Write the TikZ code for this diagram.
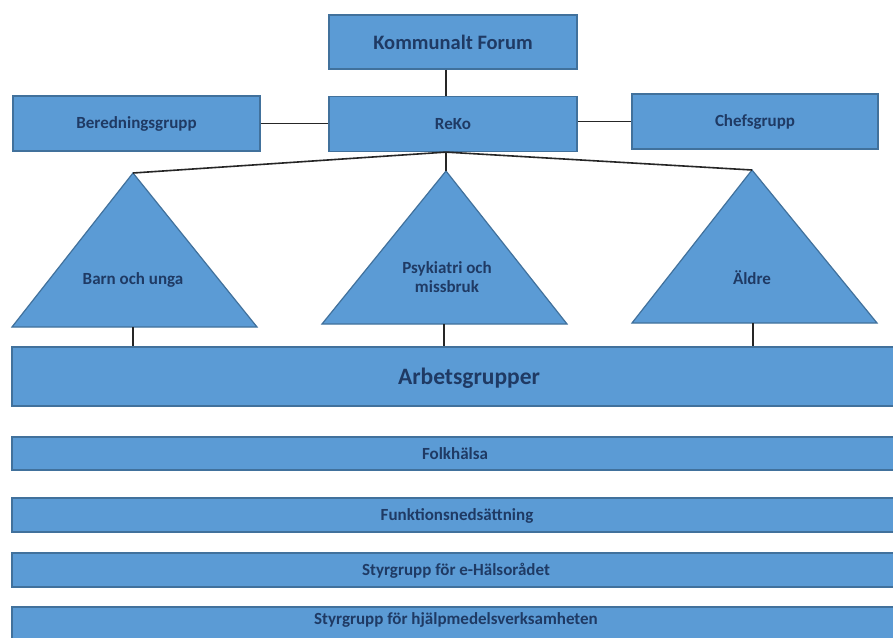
\documentclass[tikz,border=0pt]{standalone}
\usepackage{fontspec}
\setmainfont{Carlito}
\definecolor{boxfill}{HTML}{5B9BD5}
\definecolor{boxline}{HTML}{41719C}
\definecolor{txt}{HTML}{1F3A64}
\tikzset{
  orgbox/.style={draw=boxline, line width=1.2pt, fill=boxfill, inner sep=0pt, text=txt, font=\bfseries\fontsize{17}{20}\selectfont},
  tri/.style={draw=boxline, line width=1.2pt, fill=boxfill, line join=miter},
  conn/.style={draw=black!85, line width=1.6pt},
  lbl/.style={text=txt, font=\bfseries\fontsize{17}{20}\selectfont, align=center, inner sep=0pt}
}
\begin{document}
\begin{tikzpicture}[x=1pt,y=-1pt]
\useasboundingbox (0,0) rectangle (893,637);
\clip (0,0) rectangle (893,637);
\fill[white] (0,0) rectangle (893,637);

% top boxes
\node[orgbox, minimum width=248pt, minimum height=54pt, font=\bfseries\fontsize{20.5}{24}\selectfont] (kf) at (453,42) {Kommunalt Forum};
\node[orgbox, minimum width=248pt, minimum height=55pt] (reko) at (453,124) {ReKo};
\node[orgbox, minimum width=247pt, minimum height=55pt] (bg) at (136.5,123.5) {Beredningsgrupp};
\node[orgbox, minimum width=246pt, minimum height=55pt] (cg) at (755,121.5) {Chefsgrupp};

% triangles
\coordinate (a1) at (133,173);
\coordinate (a2) at (446,171);
\coordinate (a3) at (752,170);
\coordinate (b1) at (133,327);
\coordinate (b2) at (444,324);
\coordinate (b3) at (753,323);
\filldraw[tri] (a1) -- (257,327) -- (12,327) -- cycle;
\filldraw[tri] (a2) -- (567,324) -- (322,324) -- cycle;
\filldraw[tri] (a3) -- (877,323) -- (632,323) -- cycle;
\node[lbl] (t1) at (133,280) {Barn och unga};
\node[lbl] (t2) at (447,277) {Psykiatri och\\[-1pt] missbruk};
\node[lbl] (t3) at (752,278) {Äldre};

% bars
\node[orgbox, minimum width=890pt, minimum height=59pt] (ag) at (457,376.5) {};
\node[lbl, font=\bfseries\fontsize{23.5}{28}\selectfont] (agt) at (469,378) {Arbetsgrupper};
\node[orgbox, minimum width=890pt, minimum height=33pt] (fh) at (457,453.5) {};
\node[lbl] (fht) at (455,454) {Folkhälsa};
\node[orgbox, minimum width=890pt, minimum height=34pt] (fn) at (457,515) {};
\node[lbl] (fnt) at (457,515.5) {Funktionsnedsättning};
\node[orgbox, minimum width=890pt, minimum height=34pt] (eh) at (457,570) {};
\node[lbl] (eht) at (456,570.5) {Styrgrupp för e-Hälsorådet};
\node[orgbox, minimum width=890pt, minimum height=34pt] (hj) at (457,624) {};
\node[lbl] (hjt) at (456,620) {Styrgrupp för hjälpmedelsverksamheten};

% connectors
\coordinate (rb) at (reko.south -| a2);
\draw[conn] (kf.south -| a2) -- (reko.north -| a2);
\draw[conn] (bg.east) -- (bg.east -| reko.west);
\draw[conn] (reko.east |- cg.west) -- (cg.west);
\draw[conn] (rb) -- (a1);
\draw[conn] (rb) -- (a2);
\draw[conn] (rb) -- (a3);
\draw[conn] (b1) -- (b1 |- ag.north);
\draw[conn] (b2) -- (b2 |- ag.north);
\draw[conn] (b3) -- (b3 |- ag.north);
\end{tikzpicture}
\end{document}
